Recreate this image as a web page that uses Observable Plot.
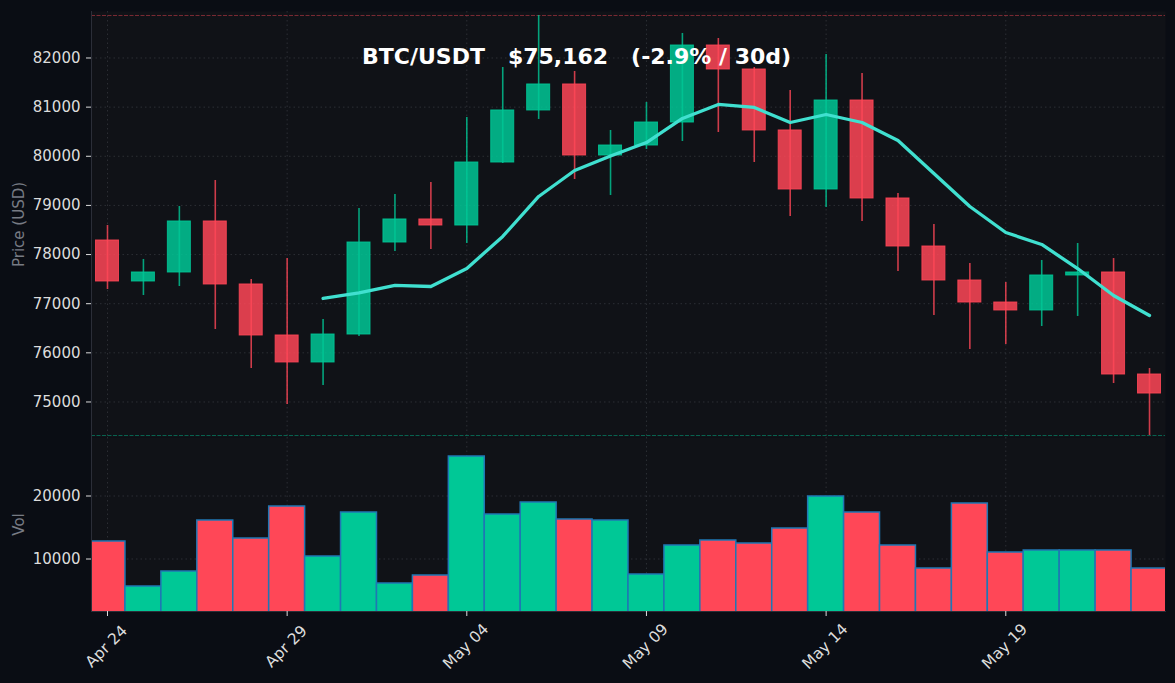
<!DOCTYPE html>
<html><head><meta charset="utf-8">
<script src="https://cdn.jsdelivr.net/npm/d3@7"></script>
<script src="https://cdn.jsdelivr.net/npm/@observablehq/plot@0.6"></script>
<style>
html,body{margin:0;padding:0;background:#0a0d14;overflow:hidden;width:1175px;height:683px}
#wrap{position:relative;width:1175px;height:683px}
#wrap svg{position:absolute;left:0;display:block;background:transparent}
#title{position:absolute;left:362px;top:43px;color:#fff;font:bold 22px "DejaVu Sans";white-space:pre;line-height:27px}
</style></head><body>
<div id="wrap"><div id="title">BTC/USDT   $75,162   (-2.9% / 30d)</div></div>
<script>
const opens  = [78286,77452,77635,78673,77391,76353,75804,76373,78245,78714,78591,79873,80932,81461,80016,80219,80687,82254,81766,80525,79324,81135,79141,78164,77472,77024,76862,77574,77635,75559];
const closes = [77452,77635,78673,77391,76353,75804,76373,78245,78714,78591,79873,80932,81461,80016,80219,80687,82254,81766,80525,79324,81135,79141,78164,77472,77024,76862,77574,77635,75559,75172];
const highs  = [78591,77900,78978,79507,77492,77919,76678,78937,79222,79466,80789,81806,82865,81725,80525,81094,82499,82397,81806,81339,82071,81684,79243,78612,77818,77431,77879,78225,77919,75681];
const lows   = [77289,77167,77350,76475,75681,74949,75335,76333,78062,78103,78225,79853,80749,79527,79202,80138,80301,80484,79873,78775,78958,78673,77655,76760,76068,76170,76536,76740,75376,74318];
const volumes= [12778,5635,8016,16111,13254,18333,10397,17381,6111,7381,26270,17063,18968,16270,16111,7540,12143,12937,12460,14841,19921,17381,12143,8492,18810,11032,11349,11349,11349,8492];
const maStart = 6;
const maValues = [77106,77218,77371,77350,77716,78368,79182,79711,80006,80280,80769,81054,80993,80687,80850,80687,80321,79650,78978,78449,78205,77716,77167,76760];
const tickIdx = [0,5,10,15,20,25];
const tickLabels = ["Apr 24","Apr 29","May 04","May 09","May 14","May 19"];
const priceTicks = [75000,76000,77000,78000,79000,80000,81000,82000];
const volTicks = [10000,20000];

const UP="#00c896", DOWN="#ff4757", GRID="#33363c", TXT="#dcdcdc", LAB="#777b84", SPINE="#2b2e38", PANEL="#101217";
const rows = opens.map((o,i)=>({i,o,c:closes[i],h:highs[i],l:lows[i],v:volumes[i],col:closes[i]>=o?UP:DOWN}));
const ma = maValues.map((v,k)=>({i:k+maStart,v}));
const xDomain=[-0.445,29.445];
const font={fontFamily:"DejaVu Sans",fontSize:"15px",background:"transparent",color:TXT};

const price = Plot.plot({
  width:1175,height:437,marginLeft:91,marginRight:10,marginTop:11,marginBottom:0,style:font,
  x:{domain:xDomain,axis:null},
  y:{domain:[74277,82946],axis:null},
  marks:[
    Plot.frame({fill:PANEL,stroke:null}),
    Plot.gridX(tickIdx,{x:d=>d,stroke:GRID,strokeOpacity:.8,strokeDasharray:"1.5,3"}),
    Plot.gridY(priceTicks,{y:d=>d,stroke:GRID,strokeOpacity:.8,strokeDasharray:"1.5,3"}),
    Plot.ruleY([d3.max(highs)],{stroke:DOWN,strokeOpacity:.45,strokeWidth:1,strokeDasharray:"4,1.5"}),
    Plot.ruleY([d3.min(lows)],{stroke:UP,strokeOpacity:.45,strokeWidth:1,strokeDasharray:"4,1.5"}),
    Plot.ruleX(rows,{x:"i",y1:"l",y2:"h",stroke:"col",strokeWidth:1.6,strokeOpacity:.8}),
    Plot.rect(rows,{x1:d=>d.i-.32,x2:d=>d.i+.32,y1:"o",y2:"c",fill:"col",stroke:"col",strokeWidth:1,fillOpacity:.85,strokeOpacity:.85}),
    Plot.line(ma,{x:"i",y:"v",stroke:"#40e0d0",strokeWidth:3.3}),
    Plot.frame({anchor:"left",stroke:SPINE}),
    Plot.axisY({ticks:priceTicks,tickFormat:d=>String(d),tickSize:5,tickPadding:6,color:TXT,stroke:TXT,
      label:null}),
    Plot.axisY({ticks:[],label:"Price (USD)",labelAnchor:"center",labelOffset:78,labelArrow:"none",color:LAB})
  ]
});
price.style.top="0px";
const vol = Plot.plot({
  width:1175,height:246,marginLeft:91,marginRight:10,marginTop:0,marginBottom:72,style:font,
  x:{domain:xDomain,axis:null},
  y:{domain:[1667,29286],axis:null},
  marks:[
    Plot.frame({fill:PANEL,stroke:null}),
    Plot.gridX(tickIdx,{x:d=>d,stroke:GRID,strokeOpacity:.8,strokeDasharray:"1.5,3"}),
    Plot.gridY(volTicks,{y:d=>d,stroke:GRID,strokeOpacity:.8,strokeDasharray:"1.5,3"}),
    Plot.rect(rows,{x1:d=>d.i-.5,x2:d=>d.i+.5,y1:0,y2:"v",fill:"col",stroke:"#1f77b4",strokeWidth:1.5,clip:"frame"}),
    Plot.frame({anchor:"left",stroke:SPINE}),
    Plot.frame({anchor:"bottom",stroke:SPINE}),
    Plot.axisY({ticks:volTicks,tickFormat:d=>String(d),tickSize:5,tickPadding:6,color:TXT,stroke:TXT,label:null}),
    Plot.axisY({ticks:[],label:"Vol",labelAnchor:"center",labelOffset:78,labelArrow:"none",color:LAB}),
    Plot.axisX({ticks:tickIdx,tickFormat:()=>"",tickSize:5,color:TXT,stroke:TXT,label:null}),
    Plot.text(tickIdx,{x:d=>d,text:d=>tickLabels[tickIdx.indexOf(d)],frameAnchor:"bottom",dx:-1,dy:35,rotate:-45,textAnchor:"middle",lineAnchor:"middle",fill:TXT,fontSize:15.5})
  ]
});
vol.style.top="437px";
const wrap=document.getElementById("wrap");
wrap.insertBefore(vol,wrap.firstChild);
wrap.insertBefore(price,wrap.firstChild);
</script></body></html>
